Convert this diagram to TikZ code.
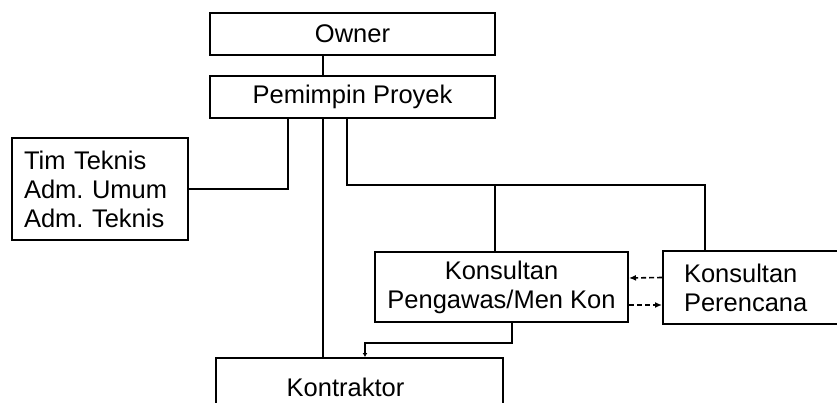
\documentclass[tikz,border=0pt]{standalone}
\usepackage{fontspec}
\setmainfont{Liberation Sans}
\usepackage{tikz}
\usetikzlibrary{arrows.meta}
\frenchspacing

\begin{document}
\begin{tikzpicture}[x=1pt,y=-1pt,
    unit/.style={draw,line width=2pt,inner sep=0pt,font=\fontsize{25.5}{29}\selectfont},
    link/.style={line width=2pt},
    flow/.style={line width=1.6pt,dashed,dash pattern=on 5pt off 3pt,-{Latex[length=7pt,width=6pt]}}]
            \clip (0,0) rectangle (837,402);

            % Nodes
            \node[unit,minimum width=285,minimum height=42] (owner) at (352.5,34) {Owner};
            \node[unit,minimum width=285,minimum height=42] (pim) at (352.5,97) {Pemimpin Proyek};
            \node[unit,minimum width=176,minimum height=102,text width=152,align=left] (tim) at (100,189) {Tim Teknis\\Adm. Umum\\Adm. Teknis};
            \node[unit,minimum width=253,minimum height=70,align=center] (peng) at (501.5,287) {Konsultan\\Pengawas/Men Kon};
            \node[unit,minimum width=177,minimum height=73,text width=135,align=left] (per) at (751.5,287.5) {Konsultan\\Perencana};
            \node[unit,minimum width=287,minimum height=58] (kon) at (359.5,387) {\hspace*{-28pt}Kontraktor};

            % Bus points
            \coordinate (spine) at (323,0);
            \coordinate (tbus) at (288,0);
            \coordinate (cbus) at (347,185);
            \coordinate (cpeng) at (495,185);
            \coordinate (cper) at (705,185);
            \coordinate (kdown) at (512,343);
            \coordinate (kleft) at (365,343);

            % Edges
            \draw[link] (owner.south -| spine) -- (pim.north -| spine);
            \draw[link] (pim.south -| tbus) |- (tim.east);
            \draw[link] (pim.south -| spine) -- (kon.north -| spine);
            \draw[link] (pim.south -| cbus) -- (cbus) -- (cper) -- (per.north -| cper);
            \draw[link] (cpeng) -- (peng.north -| cpeng);
            \draw[flow] ([yshift=10]per.west) -- ([yshift=9]peng.east);
            \draw[flow] ([yshift=-18]peng.east) -- ([yshift=-17.5]per.west);
            \draw[link,-{Latex[length=4pt,width=5pt]}] (peng.south -| kdown) -- (kdown) -- (kleft) -- (kon.north -| kleft);
        \end{tikzpicture}
\end{document}
